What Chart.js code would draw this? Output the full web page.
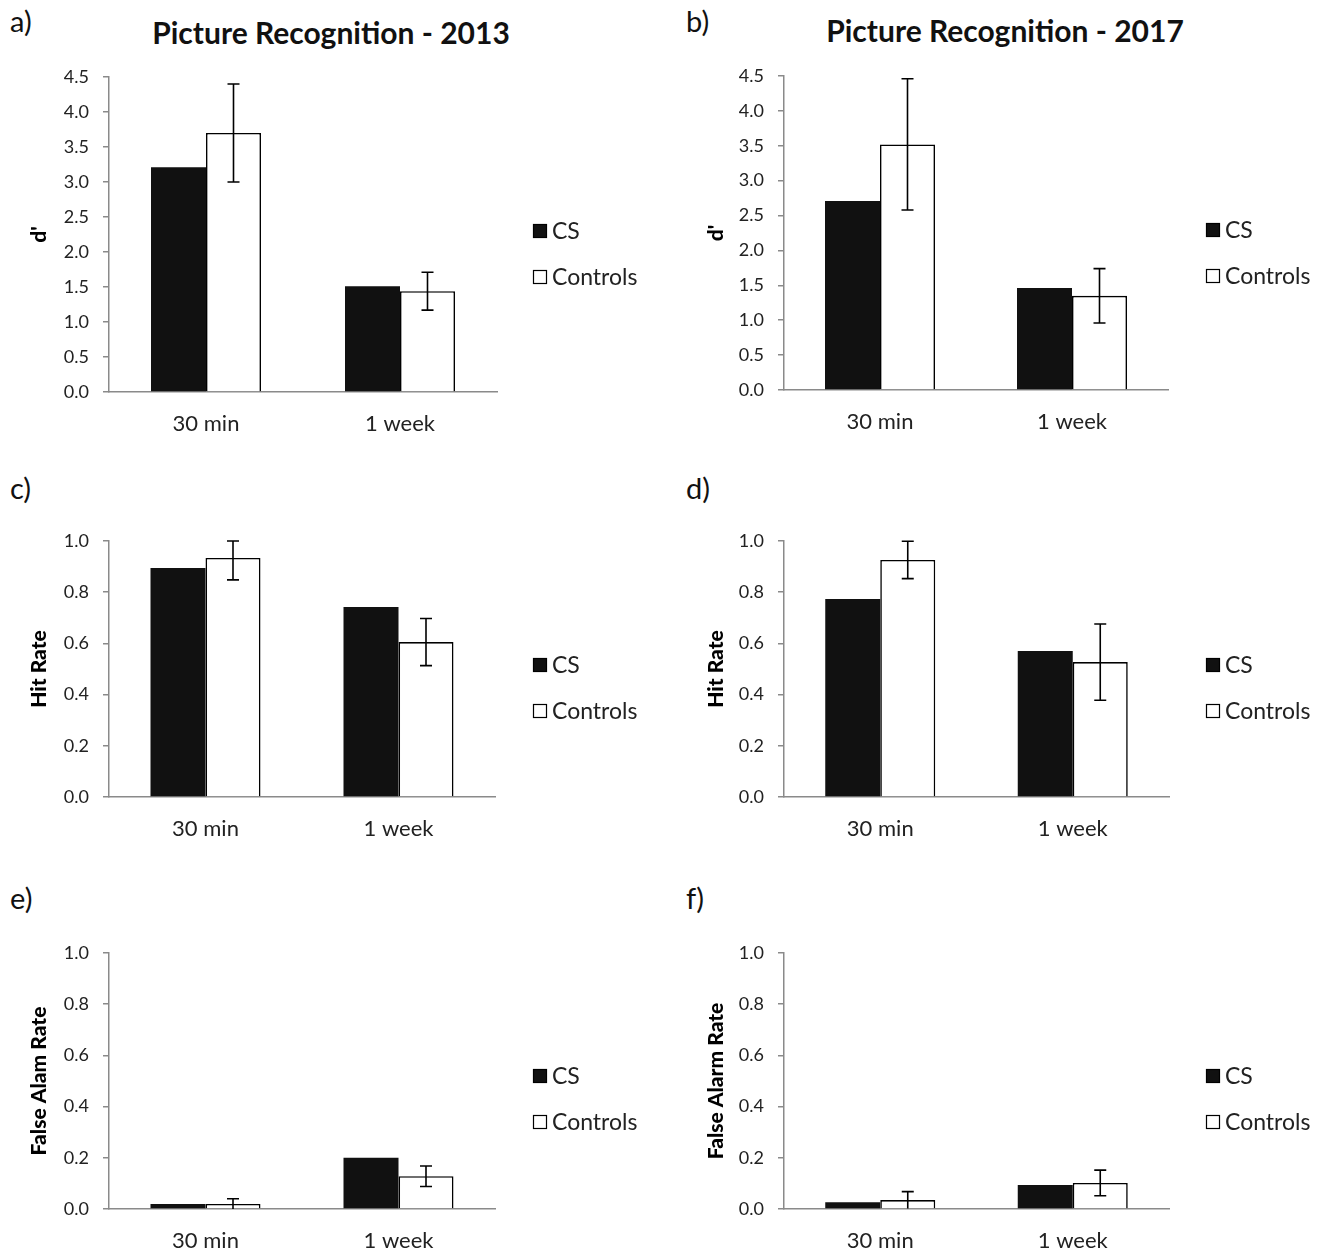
<!DOCTYPE html>
<html>
<head>
<meta charset="utf-8">
<script src="https://cdn.jsdelivr.net/npm/chart.js@4/dist/chart.umd.min.js"></script>
<style>
  body { margin: 0; background: #fff; font-family: 'Lato', sans-serif; }
  #page { position: relative; width: 1331px; height: 1255px; overflow: hidden; }
  .panel { position: absolute; }
  .tag { position: absolute; font-size: 29px; color: #111; line-height: 1; }
  .title { position: absolute; font-size: 30px; font-weight: bold; color: #111; transform: translate(-50%, -50%); white-space: nowrap; }
</style>
</head>
<body>
<div id="page">
  <div class="tag" style="left:10px; top:6px;">a)</div>
  <div class="tag" style="left:686px; top:6px;">b)</div>
  <div class="tag" style="left:10px; top:473px;">c)</div>
  <div class="tag" style="left:686px; top:473px;">d)</div>
  <div class="tag" style="left:10px; top:883px;">e)</div>
  <div class="tag" style="left:686px; top:883px;">f)</div>
  <div class="title" style="left:331px; top:32px;">Picture Recognition - 2013</div>
  <div class="title" style="left:1005px; top:30px;">Picture Recognition - 2017</div>
</div>
<script>
// ---- data ----
const categories = ['30 min', '1 week'];
const seriesNames = ['CS', 'Controls'];

const dPrime2013CS = [3.21, 1.51];
const dPrime2013Controls = [3.70, 1.44];
const dPrime2013Err = [0.70, 0.27];

const dPrime2017CS = [2.71, 1.46];
const dPrime2017Controls = [3.52, 1.35];
const dPrime2017Err = [0.94, 0.39];

const hitRate2013CS = [0.895, 0.742];
const hitRate2013Controls = [0.934, 0.605];
const hitRate2013Err = [0.086, 0.092];

const hitRate2017CS = [0.773, 0.570];
const hitRate2017Controls = [0.926, 0.527];
const hitRate2017Err = [0.073, 0.149];

const faRate2013CS = [0.020, 0.200];
const faRate2013Controls = [0.020, 0.128];
const faRate2013Err = [0.020, 0.040];

const faRate2017CS = [0.026, 0.094];
const faRate2017Controls = [0.035, 0.102];
const faRate2017Err = [0.033, 0.050];

const dPrimeTicks = { max: 4.5, step: 0.5 };
const rateTicks = { max: 1.0, step: 0.2 };

// ---- layout of the six panels ----
const panels = [
  { left: 0,   top: 50,  w: 660, h: 400, plotTop: 77,  plotBottom: 392, axisX: 109, axisEnd: 497,  yTitle: "d'", titlePad: 27,
    cs: dPrime2013CS, ctl: dPrime2013Controls, err: dPrime2013Err, ticks: dPrimeTicks, legendX: 533, legendY: 181 },
  { left: 660, top: 50,  w: 671, h: 400, plotTop: 76,  plotBottom: 390, axisX: 784, axisEnd: 1168, yTitle: "d'", titlePad: 44,
    cs: dPrime2017CS, ctl: dPrime2017Controls, err: dPrime2017Err, ticks: dPrimeTicks, legendX: 546, legendY: 180 },
  { left: 0,   top: 500, w: 660, h: 350, plotTop: 541, plotBottom: 797, axisX: 109, axisEnd: 495,  yTitle: 'Hit Rate', titlePad: 27,
    cs: hitRate2013CS, ctl: hitRate2013Controls, err: hitRate2013Err, ticks: rateTicks, legendX: 533, legendY: 165 },
  { left: 660, top: 500, w: 671, h: 350, plotTop: 541, plotBottom: 797, axisX: 784, axisEnd: 1169, yTitle: 'Hit Rate', titlePad: 44,
    cs: hitRate2017CS, ctl: hitRate2017Controls, err: hitRate2017Err, ticks: rateTicks, legendX: 546, legendY: 165 },
  { left: 0,   top: 910, w: 660, h: 345, plotTop: 953, plotBottom: 1209, axisX: 109, axisEnd: 495, yTitle: 'False Alam Rate', titlePad: 27,
    cs: faRate2013CS, ctl: faRate2013Controls, err: faRate2013Err, ticks: rateTicks, legendX: 533, legendY: 166 },
  { left: 660, top: 910, w: 671, h: 345, plotTop: 953, plotBottom: 1209, axisX: 784, axisEnd: 1169, yTitle: 'False Alarm Rate', titlePad: 44,
    cs: faRate2017CS, ctl: faRate2017Controls, err: faRate2017Err, ticks: rateTicks, legendX: 546, legendY: 166 }
];

const FONT = "'Lato', sans-serif";
const axisGray = '#8a8a8a';
const barBlack = '#111111';

// error bars for the Controls dataset
const errorBarPlugin = {
  id: 'errorBars',
  afterDatasetsDraw(chart) {
    const ctx = chart.ctx;
    const y = chart.scales.y;
    const area = chart.chartArea;
    chart.data.datasets.forEach((ds, di) => {
      if (!ds.errors) return;
      const meta = chart.getDatasetMeta(di);
      meta.data.forEach((bar, i) => {
        const v = ds.data[i], e = ds.errors[i];
        const yHi = Math.max(y.getPixelForValue(v + e), area.top);
        const yLo = Math.min(y.getPixelForValue(v - e), area.bottom);
        ctx.save();
        ctx.strokeStyle = '#000';
        ctx.lineWidth = 1.6;
        ctx.beginPath();
        ctx.moveTo(bar.x, yHi); ctx.lineTo(bar.x, yLo);
        ctx.moveTo(bar.x - 6, yHi); ctx.lineTo(bar.x + 6, yHi);
        if (yLo < area.bottom - 1) { ctx.moveTo(bar.x - 6, yLo); ctx.lineTo(bar.x + 6, yLo); }
        ctx.stroke();
        ctx.restore();
      });
    });
  }
};

// legend drawn at a fixed spot to the right of the plot
const sideLegendPlugin = {
  id: 'sideLegend',
  afterDraw(chart, args, opts) {
    const ctx = chart.ctx;
    ctx.save();
    ctx.font = '23px ' + FONT;
    ctx.textBaseline = 'middle';
    chart.data.datasets.forEach((ds, i) => {
      const cy = opts.y + i * 46;
      ctx.fillStyle = ds.backgroundColor;
      ctx.fillRect(opts.x, cy - 7, 14, 14);
      ctx.strokeStyle = '#000';
      ctx.lineWidth = 1.2;
      ctx.strokeRect(opts.x + 0.5, cy - 6.5, 13, 13);
      ctx.fillStyle = '#222';
      ctx.fillText(ds.label, opts.x + 19, cy + 1);
    });
    ctx.restore();
  }
};

function build() {
  panels.forEach(p => {
    const wrap = document.createElement('div');
    wrap.className = 'panel';
    wrap.style.left = p.left + 'px';
    wrap.style.top = p.top + 'px';
    const canvas = document.createElement('canvas');
    canvas.width = p.w;
    canvas.height = p.h;
    wrap.appendChild(canvas);
    document.getElementById('page').appendChild(wrap);

    const yWidth = p.axisX - p.left;
    const xHeight = p.top + p.h - p.plotBottom;
    const groupWidth = 110 / ((p.axisEnd - p.axisX) / categories.length);

    new Chart(canvas, {
      type: 'bar',
      data: {
        labels: categories,
        datasets: [
          { label: seriesNames[0], data: p.cs, backgroundColor: barBlack, borderColor: barBlack, borderWidth: 0 },
          { label: seriesNames[1], data: p.ctl, errors: p.err, backgroundColor: '#ffffff', borderColor: '#000000', borderWidth: 1.6 }
        ]
      },
      options: {
        responsive: false,
        animation: false,
        layout: { padding: { top: p.plotTop - p.top, right: p.left + p.w - p.axisEnd, left: 0, bottom: 0 } },
        datasets: { bar: { categoryPercentage: groupWidth, barPercentage: 1.0 } },
        scales: {
          x: {
            grid: { display: false, drawTicks: false },
            border: { color: axisGray, width: 1.5 },
            ticks: { color: '#222', font: { family: FONT, size: 22 }, padding: 19 },
            afterFit(scale) { scale.height = xHeight; }
          },
          y: {
            min: 0,
            max: p.ticks.max,
            border: { color: axisGray, width: 1.5 },
            grid: { drawOnChartArea: false, drawTicks: true, tickLength: 6, color: axisGray, lineWidth: 1.5 },
            ticks: {
              stepSize: p.ticks.step,
              color: '#222',
              font: { family: FONT, size: 18 },
              padding: 14,
              callback: v => Number(v).toFixed(1)
            },
            title: {
              display: true,
              text: p.yTitle,
              color: '#000',
              font: { family: FONT, size: 21, weight: '900' },
              padding: { top: p.titlePad, bottom: 0 }
            },
            afterFit(scale) { scale.width = yWidth; }
          }
        },
        plugins: {
          legend: { display: false },
          tooltip: { enabled: false },
          sideLegend: { x: p.legendX, y: p.legendY }
        }
      },
      plugins: [errorBarPlugin, sideLegendPlugin]
    });
  });
}

document.fonts.load("900 21px Lato").then(build, build);
</script>
</body>
</html>
